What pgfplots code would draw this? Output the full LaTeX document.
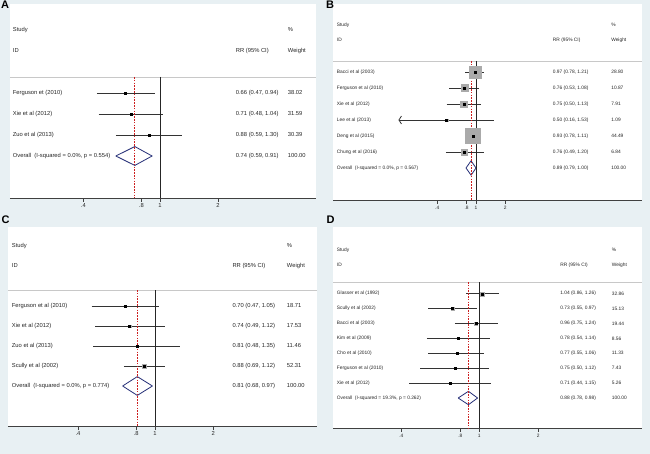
\documentclass[border=0pt]{standalone}
\usepackage{fontspec}
\setmainfont{Liberation Sans}
\usepackage{pgfplots}
\pgfplotsset{compat=1.18}
\usetikzlibrary{arrows.meta}
\definecolor{bg}{RGB}{232,240,243}
\definecolor{navyd}{RGB}{38,48,120}
\definecolor{refred}{RGB}{205,30,30}
\definecolor{boxg}{RGB}{170,170,170}
\definecolor{sepg}{RGB}{200,200,200}
\newcommand{\fA}{\fontsize{5.8bp}{7bp}\selectfont}
\newcommand{\fB}{\fontsize{4.85bp}{6bp}\selectfont}
\pgfplotsset{
  fplot/.style={
    scale only axis,
    axis background/.style={fill=white},
    axis x line*=bottom, axis y line=none,
    axis line style={-, black!75, line width=0.8bp},
    xtick={0.4,0.8,1,2}, xticklabels={.4,.8,1,2}, xminorticks=false,
    tick align=outside, major tick length=4bp,
    tick style={black!75, line width=0.6bp},
    xticklabel style={inner sep=1.5bp, text=black!85},
    clip=false,
  },
  cil/.style={black!80, line width=0.8bp},
}
% \study{y}{rr}{lo}{hi}{half box size}
\newcommand{\study}[5]{%
  \addplot[only marks, mark=square*, mark size=#5, boxg, mark options={draw=none}] coordinates {(#2,#1)};
  \addplot[cil] coordinates {(#3,#1) (#4,#1)};
  \addplot[only marks, mark=square*, mark size=1bp, black] coordinates {(#2,#1)};
}
% \overall{y}{rr}{lo}{hi}{ytop}{ybot}
\newcommand{\overall}[6]{%
  \addplot[navyd, line width=0.8bp, line join=round] coordinates {(#3,#1) (#2,#5) (#4,#1) (#2,#6) (#3,#1)};
}
% reference lines: \reflines{rr}{ysep}{ymin}
\newcommand{\reflines}[3]{%
  \addplot[black!85, line width=0.8bp] coordinates {(1,#2) (1,#3)};
  \addplot[draw=refred, color=refred, line width=0.75bp, dash pattern=on 1.6bp off 1.2bp] coordinates {(#1,#2) (#1,#3)};
}
\newcommand{\tx}[3]{\node[anchor=west, inner sep=0pt, font=\curfont, text=black!85] at ({rel axis cs:#1,0}|-{axis cs:1,#2}) {#3};}
\newcommand{\sepline}[1]{\draw[sepg, line width=0.8bp] ({rel axis cs:0,0}|-{axis cs:1,#1}) -- ({rel axis cs:1,0}|-{axis cs:1,#1});}

\begin{document}
\begin{tikzpicture}
\useasboundingbox (0,0) rectangle (650bp,454bp);
\fill[bg] (0,0) rectangle (650bp,454bp);

%================ Panel A
\def\curfont{\fA}
\begin{axis}[fplot, xmode=log, anchor=south west, at={(10bp,256bp)}, width=306bp, height=194bp,
  xmin=0.1666, xmax=6.448, ymin=-1, ymax=8.238,
  xticklabel style={font=\fA}]
\sepline{4.762}
\study{4}{0.66}{0.47}{0.94}{0bp}
\study{3}{0.71}{0.48}{1.04}{0bp}
\study{2}{0.88}{0.59}{1.30}{0bp}
\overall{1}{0.74}{0.59}{0.91}{1.45}{0.55}
\reflines{0.74}{4.762}{-1}
\tx{0.0088}{7}{Study}
\tx{0.9075}{7}{\%}
\tx{0.0088}{6}{ID}
\tx{0.7376}{6}{RR (95\% CI)}
\tx{0.9075}{6}{Weight}
\tx{0.0088}{4}{Ferguson et (2010)}
\tx{0.7376}{4}{0.66 (0.47, 0.94)}
\tx{0.9075}{4}{38.02}
\tx{0.0088}{3}{Xie et al (2012)}
\tx{0.7376}{3}{0.71 (0.48, 1.04)}
\tx{0.9075}{3}{31.59}
\tx{0.0088}{2}{Zuo et al (2013)}
\tx{0.7376}{2}{0.88 (0.59, 1.30)}
\tx{0.9075}{2}{30.39}
\tx{0.0088}{1}{Overall\ \ (I-squared = 0.0\%, p = 0.554)}
\tx{0.7376}{1}{0.74 (0.59, 0.91)}
\tx{0.9075}{1}{100.00}
\end{axis}

%================ Panel B
\def\curfont{\fB}
\begin{axis}[fplot, xmode=log, anchor=south west, at={(333bp,254bp)}, width=309bp, height=196bp,
  xmin=0.03402, xmax=50.62, ymin=-1, ymax=11.25,
  xticklabel style={font=\fB}]
\sepline{7.6875}
\study{7}{0.97}{0.78}{1.21}{6.0bp}
\study{6}{0.76}{0.53}{1.08}{3.7bp}
\study{5}{0.75}{0.50}{1.13}{3.15bp}
\addplot[only marks, mark=square*, mark size=1.17bp, boxg, mark options={draw=none}] coordinates {(0.50,4)};
\addplot[cil, arrows={Straight Barb[length=2.5bp, width=8bp, line width=0.8bp]-}] coordinates {(0.16,4) (1.53,4)};
\addplot[only marks, mark=square*, mark size=1bp, black] coordinates {(0.50,4)};
\study{3}{0.93}{0.78}{1.11}{7.5bp}
\study{2}{0.76}{0.49}{1.20}{2.94bp}
\overall{1}{0.89}{0.79}{1.00}{1.45}{0.55}
\reflines{0.89}{7.6875}{-1}
\tx{0.012}{9.94}{Study}
\tx{0.90}{9.94}{\%}
\tx{0.012}{9}{ID}
\tx{0.711}{9}{RR (95\% CI)}
\tx{0.90}{9}{Weight}
\tx{0.012}{7}{Bacci et al (2003)}
\tx{0.711}{7}{0.97 (0.78, 1.21)}
\tx{0.90}{7}{28.80}
\tx{0.012}{6}{Ferguson et al (2010)}
\tx{0.711}{6}{0.76 (0.53, 1.08)}
\tx{0.90}{6}{10.87}
\tx{0.012}{5}{Xie et al (2012)}
\tx{0.711}{5}{0.75 (0.50, 1.13)}
\tx{0.90}{5}{7.91}
\tx{0.012}{4}{Lee et al (2013)}
\tx{0.711}{4}{0.50 (0.16, 1.53)}
\tx{0.90}{4}{1.09}
\tx{0.012}{3}{Deng et al (2015)}
\tx{0.711}{3}{0.93 (0.78, 1.11)}
\tx{0.90}{3}{44.49}
\tx{0.012}{2}{Chung et al (2016)}
\tx{0.711}{2}{0.76 (0.49, 1.20)}
\tx{0.90}{2}{6.84}
\tx{0.012}{1}{Overall\ \ (I-squared = 0.0\%, p = 0.567)}
\tx{0.711}{1}{0.89 (0.79, 1.00)}
\tx{0.90}{1}{100.00}
\end{axis}

%================ Panel C
\def\curfont{\fA}
\begin{axis}[fplot, xmode=log, anchor=south west, at={(8bp,28bp)}, width=309bp, height=199bp,
  xmin=0.1738, xmax=6.88, ymin=-1, ymax=8.95,
  xticklabel style={font=\fA}]
\sepline{5.8}
\study{5}{0.70}{0.47}{1.05}{1.1bp}
\study{4}{0.74}{0.49}{1.12}{1.1bp}
\study{3}{0.81}{0.48}{1.35}{0.9bp}
\study{2}{0.88}{0.69}{1.12}{1.9bp}
\overall{1}{0.81}{0.68}{0.97}{1.47}{0.53}
\reflines{0.81}{5.8}{-1}
\tx{0.012}{8}{Study}
\tx{0.902}{8}{\%}
\tx{0.012}{7}{ID}
\tx{0.726}{7}{RR (95\% CI)}
\tx{0.902}{7}{Weight}
\tx{0.012}{5}{Ferguson et al (2010)}
\tx{0.726}{5}{0.70 (0.47, 1.05)}
\tx{0.902}{5}{18.71}
\tx{0.012}{4}{Xie et al (2012)}
\tx{0.726}{4}{0.74 (0.49, 1.12)}
\tx{0.902}{4}{17.53}
\tx{0.012}{3}{Zuo et al (2013)}
\tx{0.726}{3}{0.81 (0.48, 1.35)}
\tx{0.902}{3}{11.46}
\tx{0.012}{2}{Scully et al (2002)}
\tx{0.726}{2}{0.88 (0.69, 1.12)}
\tx{0.902}{2}{52.31}
\tx{0.012}{1}{Overall\ \ (I-squared = 0.0\%, p = 0.774)}
\tx{0.726}{1}{0.81 (0.68, 0.97)}
\tx{0.902}{1}{100.00}
\end{axis}

%================ Panel D
\def\curfont{\fB}
\begin{axis}[fplot, xmode=log, anchor=south west, at={(333bp,26bp)}, width=309bp, height=201bp,
  xmin=0.1792, xmax=6.766, ymin=-1.013, ymax=12.477,
  xticklabel style={font=\fB}]
\sepline{8.785}
\study{8}{1.04}{0.86}{1.26}{2.0bp}
\study{7}{0.73}{0.55}{0.97}{1.35bp}
\study{6}{0.96}{0.75}{1.24}{1.55bp}
\study{5}{0.78}{0.54}{1.14}{1.0bp}
\study{4}{0.77}{0.55}{1.06}{1.2bp}
\study{3}{0.75}{0.50}{1.12}{0.95bp}
\study{2}{0.71}{0.44}{1.15}{0.8bp}
\overall{1}{0.88}{0.78}{0.98}{1.45}{0.55}
\reflines{0.88}{8.785}{-1.013}
\tx{0.012}{10.93}{Study}
\tx{0.902}{10.93}{\%}
\tx{0.012}{9.93}{ID}
\tx{0.735}{9.93}{RR (95\% CI)}
\tx{0.902}{9.93}{Weight}
\tx{0.012}{8}{Glasser et al (1992)}
\tx{0.735}{8}{1.04 (0.86, 1.26)}
\tx{0.902}{8}{32.86}
\tx{0.012}{7}{Scully et al (2002)}
\tx{0.735}{7}{0.73 (0.55, 0.97)}
\tx{0.902}{7}{15.13}
\tx{0.012}{6}{Bacci et al (2003)}
\tx{0.735}{6}{0.96 (0.75, 1.24)}
\tx{0.902}{6}{19.44}
\tx{0.012}{5}{Kim et al (2009)}
\tx{0.735}{5}{0.78 (0.54, 1.14)}
\tx{0.902}{5}{8.56}
\tx{0.012}{4}{Cho et al (2010)}
\tx{0.735}{4}{0.77 (0.55, 1.06)}
\tx{0.902}{4}{11.33}
\tx{0.012}{3}{Ferguson et al (2010)}
\tx{0.735}{3}{0.75 (0.50, 1.12)}
\tx{0.902}{3}{7.43}
\tx{0.012}{2}{Xie et al (2012)}
\tx{0.735}{2}{0.71 (0.44, 1.15)}
\tx{0.902}{2}{5.26}
\tx{0.012}{1}{Overall\ \ (I-squared = 19.3\%, p = 0.262)}
\tx{0.735}{1}{0.88 (0.78, 0.98)}
\tx{0.902}{1}{100.00}
\end{axis}

% panel letters
\begin{scope}[every node/.style={anchor=base west, inner sep=0pt, font=\bfseries\fontsize{11bp}{11bp}\selectfont}]
\node at (1bp,445bp) {A};
\node at (326bp,445bp) {B};
\node at (1.5bp,230bp) {C};
\node at (326.5bp,230bp) {D};
\end{scope}
\end{tikzpicture}
\end{document}
